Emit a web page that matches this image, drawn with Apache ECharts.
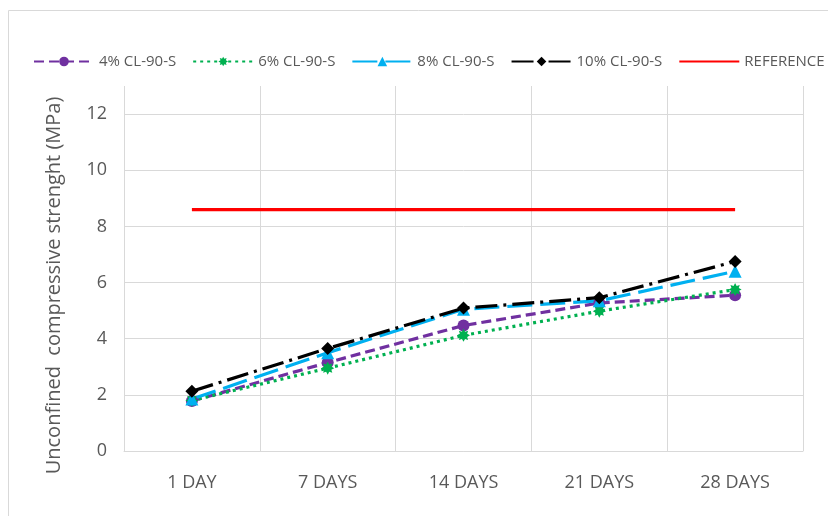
<!DOCTYPE html>
<html>
<head>
<meta charset="utf-8">
<script src="https://cdn.jsdelivr.net/npm/echarts@6/dist/echarts.min.js"></script>
<style>
  html, body { margin: 0; padding: 0; background: #fff; }
  #chart { width: 828px; height: 516px; }
</style>
</head>
<body>
<div id="chart"></div>
<script type="text/javascript">
    var days = ['1 DAY', '7 DAYS', '14 DAYS', '21 DAYS', '28 DAYS'];
    var cl4 = [1.78, 3.15, 4.47, 5.27, 5.55];
    var cl6 = [1.8, 2.95, 4.12, 4.98, 5.75];
    var cl8 = [1.85, 3.5, 5.05, 5.35, 6.4];
    var cl10 = [2.13, 3.65, 5.09, 5.46, 6.75];
    var reference = [8.6, 8.6, 8.6, 8.6, 8.6];

    var grey = '#595959';
    var star = 'path://M0,-10L2.4,-5.6L7.1,-7.1L5.6,-2.4L10,0L5.6,2.4L7.1,7.1L2.4,5.6L0,10L-2.4,5.6L-7.1,7.1L-5.6,2.4L-10,0L-5.6,-2.4L-7.1,-7.1L-2.4,-5.6Z';

    var makeLine = function(name, data, color, dash, symbol, size) {
        return {
            name: name,
            type: 'line',
            data: data,
            symbol: symbol,
            symbolSize: size,
            showSymbol: size > 0,
            itemStyle: {color: color},
            lineStyle: {color: color, width: 3.2, type: dash},
            emphasis: {disabled: true}
        };
    };

    var chart = echarts.init(document.getElementById('chart'));
    chart.setOption({
        animation: false,
        textStyle: {fontFamily: 'Open Sans'},
        graphic: [{
            type: 'rect',
            shape: {x: 8.5, y: 10.5, width: 900, height: 600},
            style: {fill: 'none', stroke: '#d9d9d9', lineWidth: 1}
        }],
        legend: {
            left: 28,
            top: 49,
            width: 1200,
            itemWidth: 60,
            itemHeight: 12,
            itemGap: 16,
            textStyle: {fontSize: 15, color: grey},
            data: ['4% CL-90-S', '6% CL-90-S', '8% CL-90-S', '10% CL-90-S',
                {name: 'REFERENCE', itemStyle: {color: 'rgba(0,0,0,0)', borderWidth: 0}}]
        },
        grid: {left: 124, right: 25, top: 86, bottom: 65},
        xAxis: {
            type: 'category',
            data: days,
            boundaryGap: true,
            axisLine: {show: true, lineStyle: {color: '#d9d9d9', width: 1}},
            axisTick: {show: false},
            axisLabel: {fontSize: 18, color: grey, margin: 23},
            splitLine: {show: true, lineStyle: {color: '#d9d9d9'}}
        },
        yAxis: {
            type: 'value',
            min: 0,
            max: 13,
            interval: 2,
            name: 'Unconfined  compressive strenght (MPa)',
            nameLocation: 'middle',
            nameGap: 60,
            nameTextStyle: {fontSize: 20, color: grey, padding: [0, 34, 0, 0]},
            axisLine: {show: false},
            axisTick: {show: false},
            axisLabel: {fontSize: 18, color: grey, margin: 17, showMaxLabel: false},
            splitLine: {show: true, showMaxLine: false, lineStyle: {color: '#d9d9d9'}}
        },
        series: [
            makeLine('4% CL-90-S', cl4, '#7030A0', [10, 5], 'circle', 12),
            makeLine('6% CL-90-S', cl6, '#00B050', [3, 4], star, 13),
            makeLine('8% CL-90-S', cl8, '#00B0F0', [25, 8], 'triangle', 13),
            makeLine('10% CL-90-S', cl10, '#000000', [22, 6, 3, 6], 'diamond', 13),
            makeLine('REFERENCE', reference, '#FF0000', 'solid', 'circle', 0)
        ]
    });
</script>
</body>
</html>
